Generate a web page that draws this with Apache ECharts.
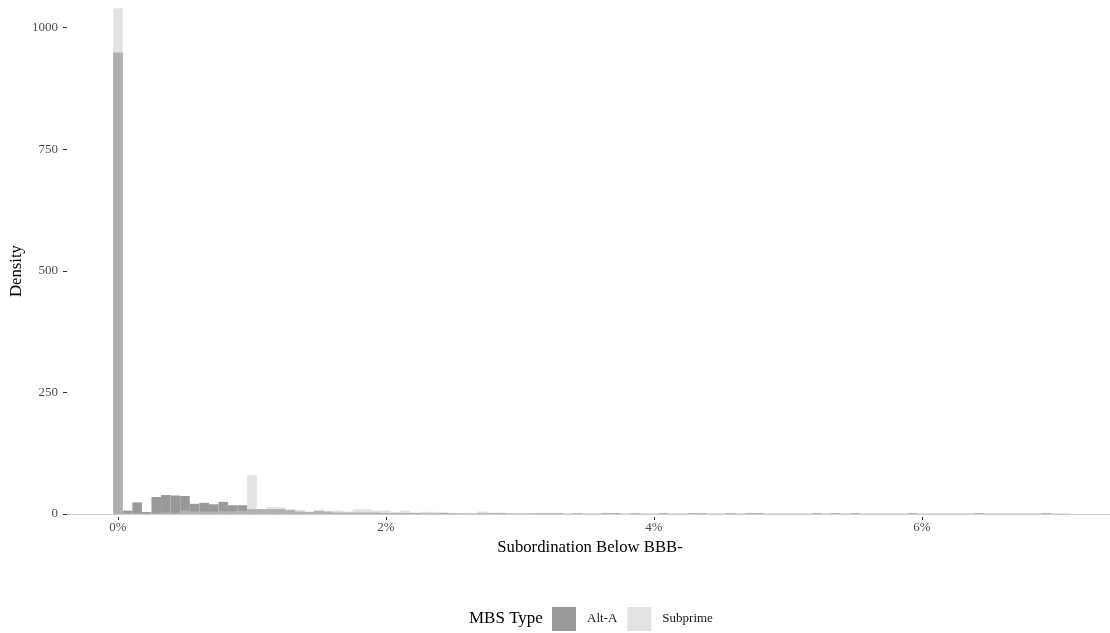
<!DOCTYPE html>
<html>
<head>
<meta charset="utf-8">
<script src="https://cdn.jsdelivr.net/npm/echarts@6/dist/echarts.min.js"></script>
<style>
html,body{margin:0;padding:0;background:#fff;}
#chart{width:1110px;height:633px;}
</style>
</head>
<body>
<div id="chart"></div>
<script>
// Histogram bins: width in percentage points, bin k centred at k * binWidth
var binWidth = 1 / 14;
// Density per bin (bins 0..99)
var altA = [
  949, 7, 24, 4, 35, 39, 38, 37, 21, 23,
  20, 25, 18, 18, 10, 10, 10, 10, 8, 5,
  4, 6, 5, 3, 3, 3, 3, 3, 2, 2,
  2, 2, 1.5, 1.5, 2.5, 1.5, 1, 1, 1.5, 2,
  1.5, 1, 1, 1, 1.5, 1.5, 1.5, 0.5, 1.5, 0.5,
  0.5, 1.5, 1.5, 0.5, 1.5, 0.5, 0.5, 1.5, 0.5, 0.5,
  1.5, 1.5, 0.5, 0.5, 1.5, 0.5, 1.5, 1.5, 0.5, 0.5,
  0.5, 0.5, 0.5, 1.5, 0.5, 1.5, 0.5, 1.5, 0.5, 0.5,
  0.5, 0.5, 0.5, 1.5, 0.5, 0.5, 0.5, 0.5, 0.5, 0.5,
  1.5, 0.5, 0.5, 0.5, 0.5, 0.5, 0.5, 1.5, 0.5, 0.5
];
var subprime = [
  1040, 2, 2, 1, 2, 3, 2, 7, 5, 5,
  5, 6, 6, 7, 80, 10, 14, 14, 10, 9,
  5, 9, 6, 7, 5, 10, 10, 7, 7, 4,
  7, 3, 4.5, 4.5, 2, 2, 2, 2, 5, 3,
  3, 2, 1.5, 1.5, 2, 2, 1, 1, 1.5, 1,
  1, 1, 1, 1, 1, 1, 1, 1, 1, 1,
  1, 1.5, 1, 1, 1, 1, 1, 1, 1, 1,
  1, 1, 1, 1, 1, 1, 1, 1, 1, 1,
  1, 1, 1, 1, 1, 1, 1, 1, 1, 1,
  1, 1, 1, 1, 1, 1, 1, 1, 1, 0
];
var xTicks = [0, 2, 4, 6];
var yTicks = [0, 250, 500, 750, 1000];
var seriesNames = ['Alt-A', 'Subprime'];

function toData(arr) {
  var out = [];
  for (var i = 0; i < arr.length; i++) {
    if (arr[i] > 0) out.push([i * binWidth, arr[i]]);
  }
  return out;
}

function renderBar(params, api) {
  var x = api.value(0), y = api.value(1);
  var p0 = api.coord([x - binWidth / 2, 0]);
  var p1 = api.coord([x + binWidth / 2, y]);
  return {
    type: 'rect',
    shape: { x: p0[0], y: p1[1], width: p1[0] - p0[0], height: p0[1] - p1[1] },
    style: api.style()
  };
}

var serif = '"Liberation Serif", "DejaVu Serif", serif';
var chart = echarts.init(document.getElementById('chart'), null, { renderer: 'canvas' });

var xMin = -51 / 134, xMax = xMin + 1043 / 134;

chart.setOption({
  animation: false,
  backgroundColor: '#ffffff',
  grid: { left: 67, right: 0, top: 0, bottom: 119, containLabel: false },
  xAxis: [
    {
      type: 'value', min: xMin, max: xMax,
      axisLine: { show: true, onZero: false, lineStyle: { color: '#cccccc', width: 1 } },
      axisTick: { show: false }, axisLabel: { show: false }, splitLine: { show: false }
    },
    {
      type: 'value', min: xMin, max: xMax, position: 'bottom', offset: 3,
      axisLine: { show: false, onZero: false },
      axisTick: { show: true, length: 3, lineStyle: { color: '#333333', width: 1 }, customValues: xTicks },
      axisLabel: {
        show: true, margin: 4, customValues: xTicks,
        fontFamily: serif, fontSize: 13, color: '#4d4d4d',
        formatter: function (v) { return v + '%'; }
      },
      splitLine: { show: false }
    }
  ],
  yAxis: {
    type: 'value', min: 0, max: 1057, position: 'left',
    axisLine: { show: false, onZero: false },
    axisTick: { show: true, length: 4, lineStyle: { color: '#333333', width: 1 }, customValues: yTicks },
    axisLabel: {
      show: true, margin: 9, customValues: yTicks, fontFamily: serif, fontSize: 13, color: '#4d4d4d',
      formatter: function (v) { return String(v); }
    },
    splitLine: { show: false }
  },
  legend: {
    data: seriesNames,
    left: 547, top: 602,
    orient: 'horizontal',
    icon: 'rect',
    itemWidth: 24, itemHeight: 24,
    itemGap: 10,
    textStyle: { fontFamily: serif, fontSize: 13, color: '#1a1a1a', padding: [0, 0, 0, 6] }
  },
  graphic: [
    { type: 'text', left: 469, top: 610, style: { text: 'MBS Type', font: '17px ' + serif, fill: '#000000' } },
    { type: 'text', x: 590, y: 548, style: { text: 'Subordination Below BBB-', font: '16.7px ' + serif, fill: '#000000', align: 'center', verticalAlign: 'middle' } },
    { type: 'text', x: 17, y: 271, rotation: Math.PI / 2, style: { text: 'Density', font: '16.7px ' + serif, fill: '#000000', align: 'center', verticalAlign: 'middle' } }
  ],
  series: [
    {
      name: 'Alt-A', type: 'custom', xAxisIndex: 0, renderItem: renderBar,
      itemStyle: { color: '#999999' },
      encode: { x: 0, y: 1 },
      data: toData(altA), z: 2
    },
    {
      name: 'Subprime', type: 'custom', xAxisIndex: 0, renderItem: renderBar,
      itemStyle: { color: 'rgba(199,199,199,0.5)' },
      encode: { x: 0, y: 1 },
      data: toData(subprime), z: 3
    }
  ]
});
</script>
</body>
</html>
